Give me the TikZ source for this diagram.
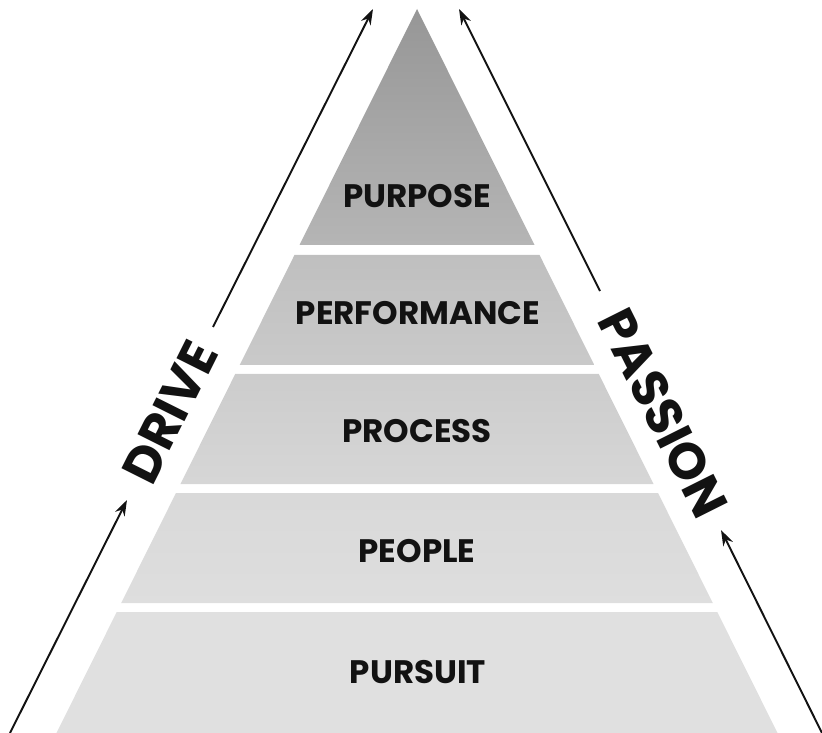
\documentclass[tikz,border=0pt]{standalone}
\usepackage{fontspec}
\setmainfont{Poppins}
\usetikzlibrary{arrows.meta}
\tikzset{>={Stealth[length=9pt,width=6pt]}}
\tikzset{layer/.style={font=\bfseries\fontsize{18.5}{22}\selectfont,text=black!93},
  side/.style={font=\bfseries\fontsize{29}{34}\selectfont,text=black!93,inner sep=1pt},
  rise/.style={->,line width=1.1pt,black!93}}

\begin{document}
\begin{tikzpicture}[x=0.02cm,y=-0.02cm]
\useasboundingbox (0,0) rectangle (822,733);
% the steps of the pyramid, from the top
\shade[top color=black!41,bottom color=black!29] (417,9) -- (534.5,245) -- (299.5,245) -- cycle;
\foreach \ya/\yb/\ca/\cb in {255/365/25/21, 374/484/20/16, 493/603/15/13, 612/733/12/12}
  \shade[top color=black!\ca,bottom color=black!\cb]
    ({417-0.498*(\ya-9)},\ya) -- ({417+0.498*(\ya-9)},\ya) --
    ({417+0.498*(\yb-9)},\yb) -- ({417-0.498*(\yb-9)},\yb) -- cycle;
% labels
\node[layer] (purpose) at (417,196) {PURPOSE};
\node[layer] (performance) at (418,313) {PERFORMANCE};
\node[layer] (process) at (417,431) {PROCESS};
\node[layer] (people) at (417,551) {PEOPLE};
\node[layer] (pursuit) at (418,672) {PURSUIT};
% side arrows
\coordinate (dl0) at (10,733);
\coordinate (dl1) at (127,500);
\coordinate (dl2) at (213,327);
\coordinate (dl3) at (373,9);
\coordinate (pr0) at (822,733);
\coordinate (pr1) at (721,530);
\coordinate (pr2) at (600,291);
\coordinate (pr3) at (459,9);
\node[side,rotate=63.4] (drive) at (170,412) {DRIVE};
\node[side,rotate=-63.4] (passion) at (663,413) {PASSION};
\draw[rise] (dl0) -- (dl1);
\draw[rise] (dl2) -- (dl3);
\draw[rise] (pr0) -- (pr1);
\draw[rise] (pr2) -- (pr3);
\end{tikzpicture}
\end{document}
